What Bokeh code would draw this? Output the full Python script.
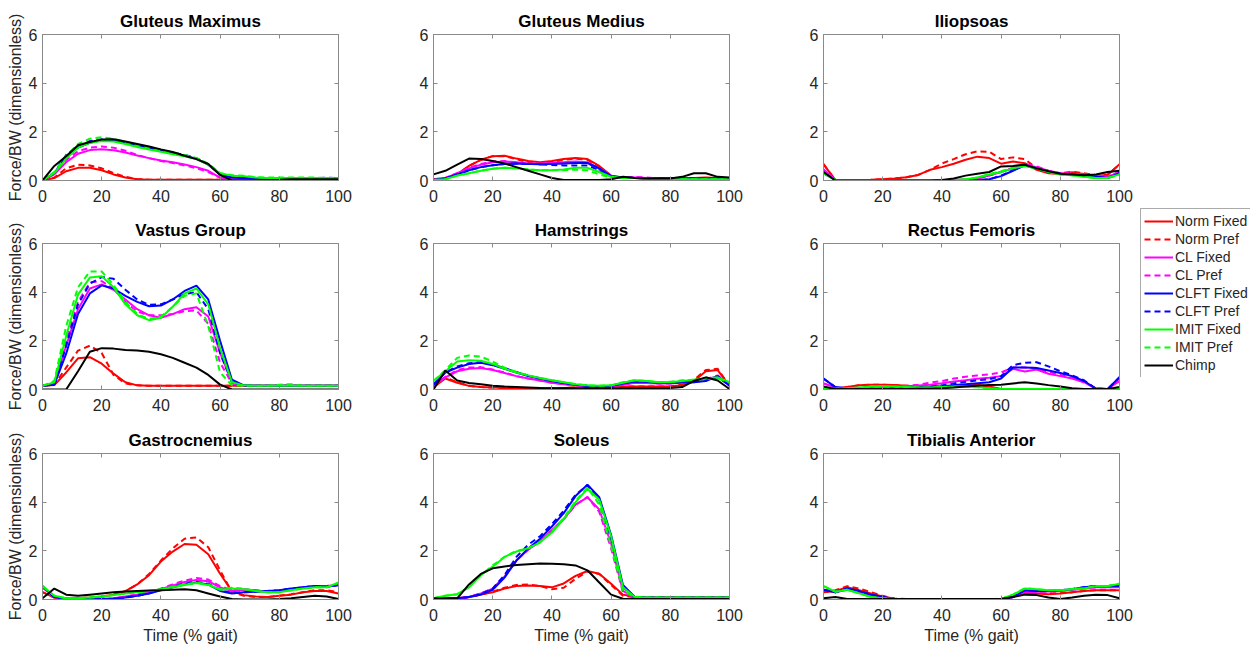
from bokeh.plotting import figure
from bokeh.layouts import column, row
from bokeh.models import Range1d, FixedTicker, LinearAxis, Legend, LegendItem
from bokeh.embed import file_html
from bokeh.resources import INLINE

# ---------------- data ----------------
TIME = [0, 4, 8, 12, 16, 20, 24, 28, 32, 36, 40, 44, 48, 52, 56, 60, 64, 68, 72, 76, 80, 84, 88, 92, 96, 100]
SERIES = ["Norm Fixed", "Norm Pref", "CL Fixed", "CL Pref", "CLFT Fixed", "CLFT Pref", "IMIT Fixed", "IMIT Pref", "Chimp"]
COLORS = ["#ff0000", "#ff0000", "#ff00ff", "#ff00ff", "#0000ff", "#0000ff", "#00ff00", "#00ff00", "#000000"]
DASHED = [False, True, False, True, False, True, False, True, False]
X_TICKS = [0, 20, 40, 60, 80, 100]
Y_TICKS = [0, 2, 4, 6]

GLUT_MAX = [
    [0, 0.1, 0.38, 0.52, 0.52, 0.42, 0.25, 0.12, 0.05, 0.03, 0.03, 0.03, 0.03, 0.03, 0.03, 0.03, 0.03, 0.03, 0.03, 0.03, 0.03, 0.03, 0.03, 0.03, 0.03, 0.03],
    [0, 0.12, 0.5, 0.65, 0.62, 0.5, 0.3, 0.15, 0.06, 0.03, 0.03, 0.03, 0.03, 0.03, 0.03, 0.03, 0.03, 0.03, 0.03, 0.03, 0.03, 0.03, 0.03, 0.03, 0.03, 0.03],
    [0, 0.25, 0.75, 1.1, 1.25, 1.28, 1.24, 1.15, 1.03, 0.92, 0.82, 0.75, 0.66, 0.55, 0.4, 0.12, 0.05, 0.05, 0.05, 0.05, 0.05, 0.05, 0.05, 0.05, 0.05, 0.05],
    [0, 0.28, 0.85, 1.2, 1.35, 1.4, 1.35, 1.22, 1.05, 0.92, 0.8, 0.72, 0.62, 0.5, 0.35, 0.12, 0.06, 0.05, 0.05, 0.05, 0.05, 0.05, 0.05, 0.05, 0.05, 0.05],
    [0, 0.3, 1.0, 1.35, 1.55, 1.65, 1.65, 1.55, 1.45, 1.33, 1.22, 1.12, 1.02, 0.9, 0.65, 0.25, 0.12, 0.1, 0.08, 0.08, 0.08, 0.08, 0.08, 0.08, 0.1, 0.08],
    [0, 0.32, 1.05, 1.42, 1.62, 1.7, 1.68, 1.58, 1.47, 1.35, 1.25, 1.15, 1.05, 0.92, 0.67, 0.27, 0.14, 0.12, 0.1, 0.1, 0.1, 0.1, 0.1, 0.1, 0.12, 0.1],
    [0, 0.3, 0.9, 1.35, 1.55, 1.62, 1.6, 1.5, 1.38, 1.27, 1.18, 1.08, 1.0, 0.88, 0.65, 0.3, 0.2, 0.18, 0.12, 0.1, 0.1, 0.1, 0.1, 0.1, 0.1, 0.08],
    [0, 0.35, 1.0, 1.5, 1.72, 1.78, 1.72, 1.58, 1.45, 1.35, 1.25, 1.15, 1.05, 0.92, 0.7, 0.3, 0.22, 0.2, 0.14, 0.12, 0.12, 0.12, 0.12, 0.12, 0.1, 0.1],
    [0, 0.6, 1.0, 1.45, 1.58, 1.68, 1.7, 1.6, 1.5, 1.4, 1.28, 1.17, 1.02, 0.88, 0.68, 0.23, 0.0, 0.0, 0.0, 0.02, 0.03, 0.05, 0.05, 0.05, 0.05, 0.05],
]

GLUT_MED = [
    [0.05, 0.1, 0.25, 0.6, 0.85, 1.0, 1.02, 0.9, 0.8, 0.75, 0.8, 0.88, 0.92, 0.88, 0.6, 0.2, 0.1, 0.1, 0.1, 0.1, 0.1, 0.1, 0.1, 0.12, 0.1, 0.1],
    [0.05, 0.1, 0.25, 0.6, 0.85, 1.0, 1.0, 0.88, 0.75, 0.65, 0.75, 0.85, 0.9, 0.85, 0.55, 0.18, 0.1, 0.1, 0.1, 0.1, 0.1, 0.1, 0.1, 0.1, 0.1, 0.1],
    [0.02, 0.1, 0.3, 0.5, 0.65, 0.75, 0.78, 0.75, 0.7, 0.7, 0.72, 0.75, 0.78, 0.75, 0.5, 0.2, 0.12, 0.12, 0.1, 0.08, 0.08, 0.08, 0.08, 0.08, 0.08, 0.08],
    [0.02, 0.1, 0.3, 0.52, 0.68, 0.78, 0.8, 0.75, 0.68, 0.68, 0.7, 0.72, 0.75, 0.72, 0.45, 0.18, 0.12, 0.15, 0.12, 0.08, 0.08, 0.08, 0.08, 0.08, 0.08, 0.08],
    [0.02, 0.08, 0.25, 0.42, 0.55, 0.63, 0.68, 0.7, 0.68, 0.68, 0.68, 0.7, 0.72, 0.72, 0.5, 0.18, 0.12, 0.1, 0.08, 0.08, 0.08, 0.08, 0.08, 0.08, 0.08, 0.08],
    [0.02, 0.08, 0.25, 0.42, 0.55, 0.63, 0.68, 0.7, 0.68, 0.66, 0.64, 0.62, 0.62, 0.62, 0.42, 0.16, 0.12, 0.1, 0.08, 0.08, 0.08, 0.08, 0.08, 0.08, 0.08, 0.08],
    [0.02, 0.05, 0.2, 0.3, 0.4, 0.48, 0.52, 0.5, 0.45, 0.42, 0.42, 0.45, 0.52, 0.52, 0.35, 0.15, 0.1, 0.1, 0.08, 0.06, 0.05, 0.05, 0.05, 0.05, 0.05, 0.05],
    [0.02, 0.05, 0.2, 0.3, 0.4, 0.48, 0.52, 0.5, 0.45, 0.42, 0.42, 0.42, 0.45, 0.42, 0.25, 0.12, 0.1, 0.1, 0.08, 0.06, 0.05, 0.05, 0.05, 0.05, 0.05, 0.05],
    [0.25, 0.4, 0.65, 0.9, 0.88, 0.8, 0.7, 0.55, 0.4, 0.25, 0.1, 0.02, 0.02, 0.02, 0.02, 0.05, 0.15, 0.1, 0.08, 0.08, 0.08, 0.15, 0.3, 0.3, 0.15, 0.12],
]

ILIOPSOAS = [
    [0.67, 0.02, 0.02, 0.02, 0.03, 0.05, 0.08, 0.13, 0.23, 0.44, 0.55, 0.69, 0.85, 0.98, 0.92, 0.69, 0.78, 0.71, 0.44, 0.3, 0.27, 0.34, 0.27, 0.2, 0.23, 0.67],
    [0.67, 0.02, 0.02, 0.02, 0.03, 0.05, 0.08, 0.13, 0.23, 0.44, 0.7, 0.88, 1.08, 1.2, 1.18, 0.88, 0.95, 0.88, 0.5, 0.32, 0.3, 0.36, 0.3, 0.22, 0.25, 0.65],
    [0.45, 0.02, 0.02, 0.02, 0.02, 0.02, 0.02, 0.02, 0.02, 0.02, 0.02, 0.02, 0.04, 0.08, 0.2, 0.35, 0.5, 0.65, 0.55, 0.4, 0.3, 0.28, 0.25, 0.2, 0.15, 0.35],
    [0.45, 0.02, 0.02, 0.02, 0.02, 0.02, 0.02, 0.02, 0.02, 0.02, 0.02, 0.02, 0.04, 0.08, 0.2, 0.36, 0.52, 0.68, 0.58, 0.4, 0.3, 0.28, 0.25, 0.2, 0.15, 0.35],
    [0.3, 0.02, 0.02, 0.02, 0.02, 0.02, 0.02, 0.02, 0.02, 0.02, 0.02, 0.02, 0.01, 0.01, 0.05, 0.18, 0.4, 0.62, 0.5, 0.35, 0.28, 0.25, 0.2, 0.15, 0.1, 0.3],
    [0.3, 0.02, 0.02, 0.02, 0.02, 0.02, 0.02, 0.02, 0.02, 0.02, 0.02, 0.02, 0.01, 0.01, 0.05, 0.2, 0.42, 0.63, 0.5, 0.35, 0.28, 0.25, 0.2, 0.15, 0.1, 0.3],
    [0.3, 0.02, 0.02, 0.02, 0.02, 0.02, 0.02, 0.02, 0.02, 0.02, 0.02, 0.02, 0.05, 0.12, 0.25, 0.35, 0.5, 0.6, 0.5, 0.35, 0.25, 0.22, 0.15, 0.1, 0.1, 0.25],
    [0.3, 0.02, 0.02, 0.02, 0.02, 0.02, 0.02, 0.02, 0.02, 0.02, 0.02, 0.02, 0.05, 0.12, 0.26, 0.38, 0.52, 0.6, 0.5, 0.35, 0.25, 0.22, 0.15, 0.1, 0.1, 0.25],
    [0.35, 0.0, 0.0, 0.0, 0.0, 0.0, 0.0, 0.0, 0.0, 0.0, 0.02, 0.08, 0.2, 0.28, 0.35, 0.58, 0.6, 0.65, 0.5, 0.38, 0.28, 0.25, 0.22, 0.25, 0.35, 0.4],
]

VASTUS = [
    [0.15, 0.18, 0.7, 1.28, 1.33, 1.06, 0.65, 0.3, 0.17, 0.15, 0.15, 0.15, 0.15, 0.15, 0.15, 0.15, 0.15, 0.15, 0.15, 0.15, 0.15, 0.15, 0.15, 0.15, 0.15, 0.15],
    [0.15, 0.2, 0.9, 1.6, 1.8, 1.5, 0.6, 0.25, 0.17, 0.15, 0.15, 0.15, 0.15, 0.15, 0.15, 0.15, 0.15, 0.15, 0.15, 0.15, 0.15, 0.15, 0.15, 0.15, 0.15, 0.15],
    [0.15, 0.25, 1.8, 3.3, 4.15, 4.32, 4.1, 3.7, 3.3, 3.05, 2.95, 3.1, 3.3, 3.38, 3.0, 1.5, 0.3, 0.17, 0.15, 0.15, 0.15, 0.15, 0.15, 0.15, 0.15, 0.15],
    [0.15, 0.28, 2.0, 3.6, 4.4, 4.45, 4.15, 3.6, 3.2, 3.05, 3.05, 3.1, 3.22, 3.25, 2.7, 1.1, 0.25, 0.15, 0.15, 0.15, 0.15, 0.15, 0.15, 0.15, 0.15, 0.15],
    [0.15, 0.2, 1.47, 3.1, 3.95, 4.28, 4.15, 3.85, 3.6, 3.42, 3.45, 3.7, 4.05, 4.27, 3.7, 2.0, 0.4, 0.17, 0.15, 0.15, 0.15, 0.15, 0.15, 0.15, 0.15, 0.15],
    [0.15, 0.22, 1.8, 3.5, 4.35, 4.62, 4.55, 4.1, 3.7, 3.48, 3.5, 3.7, 3.92, 4.0, 3.3, 1.5, 0.3, 0.15, 0.15, 0.15, 0.15, 0.15, 0.15, 0.15, 0.15, 0.15],
    [0.15, 0.3, 2.2, 3.9, 4.6, 4.65, 4.2, 3.5, 3.05, 2.85, 2.95, 3.4, 3.95, 4.15, 3.5, 1.7, 0.3, 0.17, 0.15, 0.15, 0.15, 0.15, 0.15, 0.15, 0.15, 0.15],
    [0.15, 0.35, 2.6, 4.2, 4.85, 4.85, 4.3, 3.6, 3.1, 2.9, 3.0, 3.4, 3.85, 3.95, 2.6, 0.7, 0.17, 0.15, 0.15, 0.15, 0.2, 0.22, 0.15, 0.15, 0.15, 0.15],
    [0, 0, 0, 0.75, 1.55, 1.7, 1.68, 1.62, 1.6, 1.55, 1.45, 1.3, 1.1, 0.9, 0.6, 0.2, 0, 0, 0, 0, 0, 0, 0, 0, 0, 0],
]

HAMSTRINGS = [
    [0.1, 0.45, 0.28, 0.15, 0.1, 0.08, 0.06, 0.05, 0.05, 0.05, 0.05, 0.06, 0.08, 0.1, 0.1, 0.1, 0.12, 0.12, 0.12, 0.12, 0.12, 0.18, 0.35, 0.75, 0.8, 0.15],
    [0.1, 0.5, 0.3, 0.15, 0.1, 0.08, 0.06, 0.05, 0.05, 0.05, 0.05, 0.06, 0.08, 0.1, 0.1, 0.1, 0.12, 0.12, 0.12, 0.12, 0.12, 0.2, 0.4, 0.8, 0.85, 0.15],
    [0.15, 0.5, 0.75, 0.85, 0.88, 0.8, 0.68, 0.55, 0.45, 0.37, 0.28, 0.22, 0.17, 0.13, 0.1, 0.12, 0.2, 0.28, 0.27, 0.25, 0.25, 0.28, 0.3, 0.4, 0.55, 0.2],
    [0.15, 0.52, 0.8, 0.9, 0.92, 0.82, 0.7, 0.55, 0.45, 0.37, 0.28, 0.22, 0.17, 0.13, 0.1, 0.12, 0.2, 0.28, 0.27, 0.25, 0.25, 0.28, 0.3, 0.42, 0.58, 0.2],
    [0.2, 0.7, 0.9, 1.05, 1.1, 1.0, 0.85, 0.7, 0.55, 0.45, 0.35, 0.27, 0.2, 0.15, 0.12, 0.15, 0.25, 0.33, 0.32, 0.28, 0.27, 0.3, 0.3, 0.35, 0.55, 0.15],
    [0.2, 0.7, 0.95, 1.08, 1.12, 1.02, 0.88, 0.72, 0.57, 0.46, 0.36, 0.28, 0.2, 0.15, 0.12, 0.15, 0.27, 0.35, 0.33, 0.28, 0.28, 0.3, 0.32, 0.38, 0.5, 0.18],
    [0.35, 0.75, 1.15, 1.2, 1.18, 1.05, 0.85, 0.7, 0.58, 0.47, 0.38, 0.3, 0.22, 0.17, 0.15, 0.17, 0.28, 0.38, 0.35, 0.3, 0.3, 0.35, 0.4, 0.45, 0.5, 0.3],
    [0.35, 0.8, 1.3, 1.4, 1.35, 1.15, 0.9, 0.72, 0.58, 0.47, 0.38, 0.3, 0.22, 0.17, 0.15, 0.17, 0.3, 0.38, 0.35, 0.3, 0.32, 0.38, 0.4, 0.42, 0.45, 0.3],
    [0, 0.78, 0.37, 0.27, 0.22, 0.15, 0.12, 0.1, 0.08, 0.06, 0.05, 0.05, 0.05, 0.05, 0.05, 0.05, 0.05, 0.05, 0.05, 0.05, 0.06, 0.1, 0.35, 0.5, 0.37, 0.02],
]

RECTUS = [
    [0.02, 0.02, 0.1, 0.17, 0.2, 0.2, 0.18, 0.15, 0.12, 0.1, 0.1, 0.12, 0.15, 0.2, 0.12, 0.02, 0.02, 0.02, 0.02, 0.02, 0.02, 0.02, 0.02, 0.02, 0.02, 0.02],
    [0.02, 0.02, 0.1, 0.17, 0.2, 0.2, 0.18, 0.15, 0.13, 0.12, 0.12, 0.13, 0.16, 0.2, 0.1, 0.02, 0.02, 0.02, 0.02, 0.02, 0.02, 0.02, 0.02, 0.02, 0.02, 0.02],
    [0.25, 0.08, 0.05, 0.05, 0.05, 0.06, 0.08, 0.12, 0.16, 0.2, 0.26, 0.33, 0.38, 0.44, 0.48, 0.55, 0.85, 0.74, 0.82, 0.65, 0.55, 0.45, 0.3, 0.04, 0.02, 0.35],
    [0.25, 0.08, 0.05, 0.05, 0.05, 0.06, 0.1, 0.15, 0.2, 0.28, 0.35, 0.45, 0.52, 0.58, 0.62, 0.7, 0.9, 0.9, 0.88, 0.72, 0.6, 0.48, 0.3, 0.04, 0.02, 0.35],
    [0.45, 0.1, 0.05, 0.03, 0.03, 0.03, 0.05, 0.06, 0.08, 0.1, 0.13, 0.18, 0.22, 0.26, 0.3, 0.45, 0.9, 0.9, 0.88, 0.78, 0.68, 0.55, 0.35, 0.04, 0.02, 0.5],
    [0.45, 0.1, 0.05, 0.03, 0.03, 0.03, 0.05, 0.06, 0.08, 0.12, 0.17, 0.25, 0.32, 0.38, 0.42, 0.55, 1.0, 1.1, 1.12, 0.95, 0.75, 0.58, 0.38, 0.04, 0.02, 0.5],
    [0.05, 0.03, 0.05, 0.08, 0.12, 0.13, 0.12, 0.1, 0.08, 0.08, 0.1, 0.12, 0.12, 0.1, 0.05, 0.02, 0.02, 0.02, 0.02, 0.02, 0.02, 0.02, 0.02, 0.02, 0.02, 0.02],
    [0.05, 0.03, 0.05, 0.08, 0.11, 0.12, 0.11, 0.1, 0.08, 0.08, 0.1, 0.11, 0.11, 0.09, 0.04, 0.02, 0.02, 0.02, 0.02, 0.02, 0.02, 0.02, 0.02, 0.02, 0.02, 0.02],
    [0.12, 0.02, 0.02, 0.02, 0.02, 0.02, 0.02, 0.02, 0.03, 0.03, 0.05, 0.08, 0.12, 0.15, 0.18, 0.2, 0.25, 0.3, 0.25, 0.18, 0.12, 0.05, 0.02, 0.02, 0.02, 0.1],
]

GASTROC = [
    [0.3, 0.08, 0.05, 0.05, 0.08, 0.12, 0.2, 0.34, 0.62, 1.0, 1.56, 1.97, 2.28, 2.25, 1.86, 1.06, 0.34, 0.18, 0.12, 0.1, 0.15, 0.2, 0.3, 0.35, 0.35, 0.25],
    [0.3, 0.08, 0.05, 0.05, 0.08, 0.12, 0.2, 0.34, 0.62, 1.05, 1.6, 2.1, 2.5, 2.55, 2.15, 1.2, 0.3, 0.15, 0.1, 0.1, 0.15, 0.22, 0.3, 0.38, 0.38, 0.3],
    [0.5, 0.1, 0.02, 0.02, 0.02, 0.03, 0.05, 0.12, 0.2, 0.3, 0.42, 0.58, 0.72, 0.8, 0.75, 0.5, 0.35, 0.4, 0.38, 0.32, 0.35, 0.42, 0.5, 0.55, 0.55, 0.6],
    [0.5, 0.1, 0.02, 0.02, 0.02, 0.03, 0.05, 0.12, 0.2, 0.3, 0.45, 0.62, 0.78, 0.88, 0.82, 0.55, 0.38, 0.42, 0.38, 0.32, 0.35, 0.42, 0.5, 0.55, 0.55, 0.6],
    [0.55, 0.1, 0.02, 0.02, 0.02, 0.02, 0.03, 0.08, 0.15, 0.25, 0.38, 0.5, 0.62, 0.7, 0.62, 0.35, 0.25, 0.3, 0.32, 0.35, 0.38, 0.45, 0.5, 0.55, 0.52, 0.6],
    [0.55, 0.1, 0.02, 0.02, 0.02, 0.02, 0.03, 0.08, 0.15, 0.25, 0.4, 0.52, 0.65, 0.72, 0.65, 0.38, 0.27, 0.3, 0.32, 0.35, 0.38, 0.45, 0.5, 0.55, 0.52, 0.6],
    [0.55, 0.15, 0.05, 0.05, 0.08, 0.12, 0.18, 0.25, 0.3, 0.35, 0.42, 0.5, 0.6, 0.68, 0.6, 0.4, 0.45, 0.42, 0.35, 0.3, 0.3, 0.38, 0.45, 0.5, 0.5, 0.7],
    [0.55, 0.15, 0.05, 0.05, 0.08, 0.12, 0.18, 0.25, 0.3, 0.35, 0.42, 0.52, 0.62, 0.7, 0.62, 0.42, 0.48, 0.45, 0.35, 0.3, 0.3, 0.38, 0.45, 0.5, 0.5, 0.68],
    [0.05, 0.45, 0.2, 0.15, 0.2, 0.25, 0.3, 0.33, 0.35, 0.37, 0.38, 0.4, 0.42, 0.38, 0.25, 0.12, 0.02, 0.0, 0.0, 0.0, 0.02, 0.05, 0.1, 0.15, 0.12, 0.02],
]

SOLEUS = [
    [0.05, 0.05, 0.05, 0.1, 0.2, 0.3, 0.45, 0.55, 0.58, 0.55, 0.5, 0.66, 0.97, 1.17, 1.06, 0.65, 0.2, 0.1, 0.1, 0.1, 0.1, 0.1, 0.1, 0.1, 0.1, 0.1],
    [0.05, 0.05, 0.05, 0.1, 0.2, 0.32, 0.48, 0.6, 0.62, 0.55, 0.42, 0.48, 0.85, 1.15, 1.05, 0.6, 0.15, 0.1, 0.1, 0.1, 0.1, 0.1, 0.1, 0.1, 0.1, 0.1],
    [0.05, 0.05, 0.05, 0.1, 0.25, 0.45, 0.95, 1.6, 2.05, 2.4, 2.85, 3.3, 3.9, 4.2, 3.7, 2.3, 0.35, 0.08, 0.08, 0.08, 0.08, 0.08, 0.08, 0.08, 0.08, 0.08],
    [0.05, 0.05, 0.05, 0.1, 0.25, 0.45, 0.95, 1.6, 2.05, 2.4, 2.85, 3.3, 3.88, 4.22, 3.6, 2.1, 0.3, 0.08, 0.08, 0.08, 0.08, 0.08, 0.08, 0.08, 0.08, 0.08],
    [0.05, 0.05, 0.05, 0.1, 0.2, 0.4, 0.9, 1.6, 2.1, 2.5, 3.0, 3.55, 4.25, 4.72, 4.2, 2.65, 0.6, 0.1, 0.08, 0.08, 0.08, 0.08, 0.08, 0.08, 0.08, 0.08],
    [0.05, 0.05, 0.05, 0.1, 0.22, 0.45, 1.0, 1.75, 2.25, 2.6, 3.1, 3.65, 4.3, 4.7, 4.1, 2.5, 0.5, 0.1, 0.08, 0.08, 0.08, 0.08, 0.08, 0.08, 0.08, 0.08],
    [0.05, 0.15, 0.22, 0.5, 1.0, 1.35, 1.75, 1.97, 2.1, 2.35, 2.75, 3.3, 4.0, 4.55, 4.1, 2.6, 0.5, 0.1, 0.08, 0.08, 0.08, 0.08, 0.08, 0.08, 0.08, 0.08],
    [0.05, 0.15, 0.22, 0.5, 1.0, 1.4, 1.75, 2.0, 2.1, 2.35, 2.8, 3.35, 4.05, 4.6, 3.9, 2.2, 0.35, 0.1, 0.08, 0.08, 0.08, 0.08, 0.08, 0.08, 0.08, 0.08],
    [0.05, 0.03, 0.05, 0.62, 1.05, 1.28, 1.36, 1.42, 1.45, 1.48, 1.47, 1.45, 1.4, 1.2, 0.7, 0.2, 0.03, 0.02, 0.02, 0.02, 0.02, 0.02, 0.02, 0.02, 0.02, 0.02],
]

TIBIALIS = [
    [0.3, 0.35, 0.5, 0.38, 0.25, 0.12, 0.03, 0.02, 0.02, 0.02, 0.02, 0.02, 0.02, 0.02, 0.02, 0.02, 0.12, 0.28, 0.25, 0.22, 0.25, 0.3, 0.35, 0.38, 0.38, 0.38],
    [0.3, 0.38, 0.55, 0.45, 0.3, 0.15, 0.04, 0.02, 0.02, 0.02, 0.02, 0.02, 0.02, 0.02, 0.02, 0.02, 0.12, 0.3, 0.27, 0.24, 0.26, 0.3, 0.35, 0.38, 0.38, 0.38],
    [0.4, 0.3, 0.4, 0.3, 0.15, 0.08, 0.02, 0.02, 0.02, 0.02, 0.02, 0.02, 0.02, 0.02, 0.02, 0.0, 0.1, 0.32, 0.32, 0.33, 0.35, 0.4, 0.45, 0.5, 0.5, 0.5],
    [0.4, 0.3, 0.42, 0.32, 0.16, 0.08, 0.02, 0.02, 0.02, 0.02, 0.02, 0.02, 0.02, 0.02, 0.02, 0.0, 0.1, 0.33, 0.32, 0.33, 0.36, 0.4, 0.46, 0.5, 0.5, 0.52],
    [0.4, 0.3, 0.45, 0.35, 0.2, 0.1, 0.02, 0.02, 0.02, 0.02, 0.02, 0.02, 0.02, 0.02, 0.02, 0.0, 0.1, 0.38, 0.35, 0.35, 0.38, 0.42, 0.5, 0.55, 0.55, 0.55],
    [0.4, 0.3, 0.45, 0.36, 0.2, 0.1, 0.02, 0.02, 0.02, 0.02, 0.02, 0.02, 0.02, 0.02, 0.02, 0.0, 0.1, 0.38, 0.36, 0.35, 0.38, 0.43, 0.5, 0.55, 0.56, 0.56],
    [0.55, 0.32, 0.4, 0.25, 0.1, 0.05, 0.02, 0.02, 0.02, 0.02, 0.02, 0.02, 0.02, 0.02, 0.02, 0.02, 0.2, 0.45, 0.42, 0.38, 0.38, 0.42, 0.45, 0.55, 0.55, 0.65],
    [0.55, 0.32, 0.4, 0.26, 0.1, 0.05, 0.02, 0.02, 0.02, 0.02, 0.02, 0.02, 0.02, 0.02, 0.02, 0.02, 0.2, 0.46, 0.42, 0.38, 0.38, 0.42, 0.46, 0.55, 0.55, 0.65],
    [0.05, 0.1, 0.02, 0.02, 0.02, 0.02, 0.02, 0.02, 0.02, 0.02, 0.02, 0.02, 0.02, 0.02, 0.02, 0.02, 0.1, 0.2, 0.18, 0.08, 0.02, 0.08, 0.15, 0.2, 0.18, 0.05],
]

PANELS = [
    ("Gluteus Maximus", GLUT_MAX), ("Gluteus Medius", GLUT_MED), ("Iliopsoas", ILIOPSOAS),
    ("Vastus Group", VASTUS), ("Hamstrings", HAMSTRINGS), ("Rectus Femoris", RECTUS),
    ("Gastrocnemius", GASTROC), ("Soleus", SOLEUS), ("Tibialis Anterior", TIBIALIS),
]

# ---------------- style / layout ----------------
FONT = "Liberation Sans"
TXT = "#262626"
BOX = "#8a8a8a"
COL_W = [390, 390, 360]
ROW_H = [208, 209, 232]
B_LEFT = [42, 43, 43]
B_RIGHT = [52, 51, 21]
B_TOP = [34, 35, 36]
B_BOTTOM = [28, 28, 50]


def mirror_axis(ticks):
    # box-style mirrored tick marks (minor ticks only, so no labels)
    ax = LinearAxis(ticker=FixedTicker(ticks=[], minor_ticks=ticks))
    ax.minor_tick_in = 4
    ax.minor_tick_out = 0
    ax.minor_tick_line_color = BOX
    ax.major_tick_line_color = None
    ax.axis_line_color = BOX
    ax.major_label_standoff = 0
    return ax


def make_panel(title, data, r, c):
    p = figure(width=COL_W[c], height=ROW_H[r],
               x_range=Range1d(0, 100), y_range=Range1d(0, 6),
               output_backend="svg", toolbar_location=None,
               min_border_left=B_LEFT[c], min_border_right=B_RIGHT[c],
               min_border_top=B_TOP[r], min_border_bottom=B_BOTTOM[r],
               title=title)
    p.title.align = "center"
    p.title.text_font = FONT
    p.title.text_font_size = "17px"
    p.title.text_font_style = "bold"
    p.title.text_color = "black"
    p.title.standoff = 7
    p.grid.visible = False
    p.outline_line_color = BOX
    p.background_fill_color = "white"
    p.border_fill_color = "white"

    p.xaxis.ticker = FixedTicker(ticks=X_TICKS)
    p.yaxis.ticker = FixedTicker(ticks=Y_TICKS)
    for ax in (p.xaxis, p.yaxis):
        ax.major_tick_in = 4
        ax.major_tick_out = 0
        ax.minor_tick_line_color = None
        ax.axis_line_color = BOX
        ax.major_tick_line_color = BOX
        ax.major_label_text_font = FONT
        ax.major_label_text_font_size = "16px"
        ax.major_label_text_color = TXT
        ax.axis_label_text_font = FONT
        ax.axis_label_text_font_size = "16px"
        ax.axis_label_text_font_style = "normal"
        ax.axis_label_text_color = TXT
    p.xaxis.major_label_standoff = 9
    p.yaxis.major_label_standoff = 5
    if c == 0:
        p.yaxis.axis_label = "Force/BW (dimensionless)"
        p.yaxis.axis_label_standoff = 2
    if r == 2:
        p.xaxis.axis_label = "Time (% gait)"
        p.xaxis.axis_label_standoff = 3

    p.add_layout(mirror_axis(X_TICKS), "above")
    p.add_layout(mirror_axis(Y_TICKS), "right")

    for vals, color, dashed in zip(data, COLORS, DASHED):
        p.line(TIME, vals, line_color=color, line_width=2,
               line_dash="6 4" if dashed else "solid")
    return p


figs = []
for i, (title, data) in enumerate(PANELS):
    figs.append(make_panel(title, data, i // 3, i % 3))

# legend: its own tall, narrow plot whose frame is exactly the legend box
lg = figure(width=119, height=649, x_range=Range1d(0, 1), y_range=Range1d(0, 1),
            x_axis_type=None, y_axis_type=None, output_backend="svg",
            toolbar_location=None, title_location=None,
            min_border_left=0, min_border_right=9,
            min_border_top=208, min_border_bottom=272,
            outline_line_color=None)
lg.grid.visible = False
items = []
for name, color, dashed in zip(SERIES, COLORS, DASHED):
    # dummy lines outside the visible range: only their legend samples show
    rr = lg.line(x=[5, 6], y=[5, 6], line_color=color, line_width=2,
                 line_dash="6 4" if dashed else "solid")
    items.append(LegendItem(label=name, renderers=[rr]))
legend = Legend(items=items, location="top_left")
legend.margin = 0
legend.padding = 3
legend.spacing = 0
legend.glyph_width = 29
legend.glyph_height = 18
legend.label_height = 18
legend.label_standoff = 2
legend.label_text_font = FONT
legend.label_text_font_size = "14px"
legend.label_text_color = TXT
legend.border_line_color = "#555555"
legend.border_line_width = 1
legend.background_fill_color = "white"
legend.background_fill_alpha = 1.0
lg.add_layout(legend, "center")

grid = column(
    row(figs[0], figs[1], figs[2]),
    row(figs[3], figs[4], figs[5]),
    row(figs[6], figs[7], figs[8]),
)
layout = row(grid, lg)

open("out.html", "w").write(file_html(layout, INLINE, "Muscle forces"))
